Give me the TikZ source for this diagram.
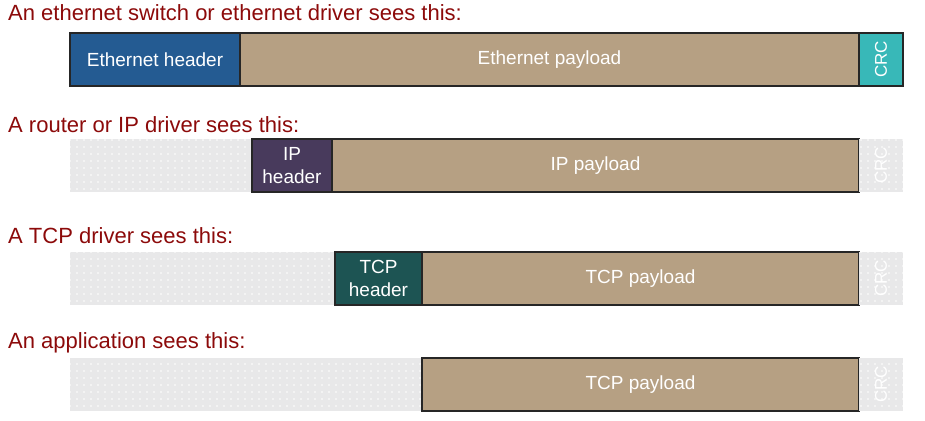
\documentclass[tikz,border=0pt]{standalone}
\usepackage{fontspec}
\setmainfont{Liberation Sans}
\usetikzlibrary{patterns.meta}
\definecolor{titlered}{HTML}{8C0A0A}
\definecolor{ethblue}{HTML}{245B92}
\definecolor{payloadtan}{HTML}{B6A083}
\definecolor{crcteal}{HTML}{38B8B8}
\definecolor{ipviolet}{HTML}{483A5C}
\definecolor{tcpgreen}{HTML}{1D5453}
\definecolor{ghostgrey}{HTML}{E8E8E9}
\tikzset{
  seen/.style={draw=black!85, line width=1.3pt, inner sep=0pt, minimum height=53pt,
    text=white, align=center, font=\fontsize{19}{23}\selectfont},
  ghost/.style={fill=ghostgrey, inner sep=0pt, minimum height=53pt, text=white,
    font=\fontsize{17}{20}\selectfont,
    postaction={pattern={Dots[distance=7pt,radius=0.9pt]}, pattern color=white}},
  caption/.style={anchor=base west, inner sep=0pt, text=titlered,
    font=\fontsize{22}{26}\selectfont}
}
\begin{document}
\begin{tikzpicture}[x=1pt,y=-1pt]
\useasboundingbox (0,0) rectangle (925,420);
\node[caption] (capeth) at (8,21) {An ethernet switch or ethernet driver sees this:};
\node[seen, fill=ethblue, minimum width=170pt] (ethhdr) at (155,59.5) {Ethernet header};
\node[seen, fill=payloadtan, minimum width=619pt] (ethpay) at (549.5,59.5) {Ethernet payload};
\node[seen, fill=crcteal, minimum width=44pt] (crc) at (881,59.5) {\fontsize{17}{20}\selectfont\rotatebox{90}{CRC}};
\node[caption] (capip) at (8,132) {A router or IP driver sees this:};
\node[ghost, minimum width=182pt] (ipghost) at (161,165.5) {};
\node[seen, fill=ipviolet, minimum width=80pt] (iphdr) at (292,165.5) {IP\\header};
\node[seen, fill=payloadtan, minimum width=527pt] (ippay) at (595.5,165.5) {IP payload};
\node[ghost, minimum width=44pt] (ipcrc) at (881,165.5) {\rotatebox{90}{CRC}};
\node[caption] (captcp) at (8,243) {A TCP driver sees this:};
\node[ghost, minimum width=172pt] (tcpghosta) at (156,278.5) {};
\node[ghost, minimum width=93pt] (tcpghostb) at (288.5,278.5) {};
\node[seen, fill=tcpgreen, minimum width=87pt] (tcphdr) at (378.5,278.5) {TCP\\header};
\node[seen, fill=payloadtan, minimum width=437pt] (tcppay) at (640.5,278.5) {TCP payload};
\node[ghost, minimum width=44pt] (tcpcrc) at (881,278.5) {\rotatebox{90}{CRC}};
\node[caption] (capapp) at (8,348) {An application sees this:};
\node[ghost, minimum width=172pt] (appghosta) at (156,384.5) {};
\node[ghost, minimum width=93pt] (appghostb) at (288.5,384.5) {};
\node[ghost, minimum width=87pt] (appghostc) at (378.5,384.5) {};
\node[seen, fill=payloadtan, minimum width=437pt] (apppay) at (640.5,384.5) {TCP payload};
\node[ghost, minimum width=44pt] (appcrc) at (881,384.5) {\rotatebox{90}{CRC}};
\end{tikzpicture}
\end{document}
